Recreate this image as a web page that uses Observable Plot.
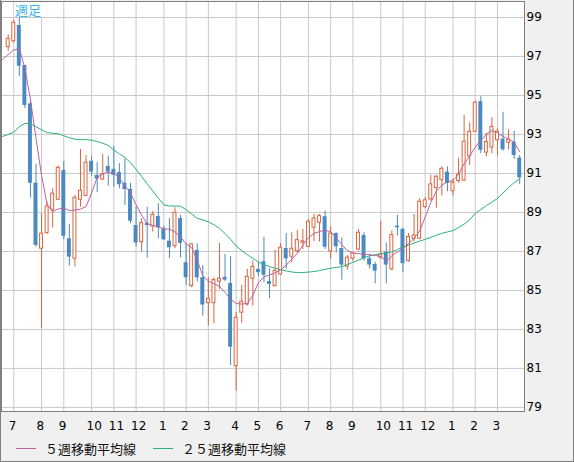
<!DOCTYPE html>
<html><head><meta charset="utf-8">
<script src="https://cdn.jsdelivr.net/npm/d3@7"></script>
<script src="https://cdn.jsdelivr.net/npm/@observablehq/plot@0.6"></script>
<style>
html,body{margin:0;padding:0;background:#f0f0f0;}
#wrap{position:relative;width:574px;height:462px;box-sizing:border-box;border:1px solid #808080;border-top:none;overflow:hidden;background:#f0f0f0;}
#chart svg{display:block;}
#ttl{position:absolute;left:13px;top:3px;font-family:"Noto Sans CJK JP",sans-serif;font-size:13px;line-height:14px;color:#3cb4e6;background:white;padding:0 1px;}
.leg{position:absolute;top:438px;height:20px;display:flex;align-items:center;font-family:"Noto Sans CJK JP",sans-serif;font-size:13px;color:#111;}
.leg .ln{display:inline-block;width:20px;height:1px;margin-right:9px;}
</style></head>
<body>
<div id="wrap">
  <div id="chart"></div>
  <div id="ttl">週足</div>
  <div class="leg" style="left:15px"><span class="ln" style="background:#c0609a"></span>５週移動平均線</div>
  <div class="leg" style="left:152px"><span class="ln" style="background:#2ab27a"></span>２５週移動平均線</div>
</div>
<script>
// weekly OHLC, index 0..92
const open = [97.48,97.78,98.59,96.54,94.57,90.50,87.14,87.94,89.14,89.65,91.15,87.65,86.63,89.65,89.85,91.62,90.90,90.69,91.36,91.21,91.04,90.50,90.18,88.33,87.48,88.45,88.28,88.79,88.16,87.53,87.27,88.69,86.42,85.22,87.05,85.65,84.35,84.35,85.45,85.67,85.36,81.12,83.86,84.28,85.60,86.08,86.47,85.46,85.22,85.82,87.15,86.73,87.01,87.45,87.24,88.22,88.47,88.78,87.00,87.92,87.15,86.22,86.63,87.10,87.82,86.63,86.33,86.68,86.96,86.08,88.30,88.13,86.50,87.65,87.65,89.28,89.67,90.26,90.66,91.07,90.09,90.61,90.64,91.88,93.14,94.68,92.07,92.33,92.71,92.76,92.58,92.60,91.79];
const high = [98.11,98.85,98.98,96.54,94.74,91.46,88.93,89.53,90.21,91.37,91.62,88.38,89.87,92.23,91.92,91.89,91.55,91.97,91.89,92.40,91.50,91.75,90.50,89.27,88.68,89.27,89.05,89.44,88.30,88.68,89.24,88.86,87.41,87.41,87.39,86.28,85.65,85.65,87.41,86.85,86.73,83.86,85.26,86.08,86.50,86.45,87.73,86.11,87.05,87.41,87.92,87.96,88.08,88.13,88.64,88.90,88.90,89.07,88.25,87.95,87.70,86.79,86.95,88.13,87.96,86.85,86.45,88.55,87.44,88.04,88.85,88.21,87.92,88.90,89.71,89.76,90.90,90.90,91.34,91.34,90.70,91.77,93.99,93.60,94.71,94.94,93.05,93.86,93.29,94.14,93.24,93.16,91.92];
const low = [97.27,97.70,95.97,94.33,89.74,87.22,83.07,87.86,88.20,89.60,87.60,86.25,86.20,89.27,89.80,90.85,90.01,90.65,90.35,90.30,90.21,89.36,88.42,87.22,86.96,86.66,87.99,87.65,87.56,86.63,87.14,86.68,85.26,85.15,85.43,83.68,83.17,83.29,85.05,85.45,81.15,79.84,83.31,84.19,84.19,85.72,85.39,84.59,85.18,85.77,86.08,86.42,86.90,87.10,87.20,87.50,87.48,87.10,86.59,86.93,85.53,86.04,86.50,87.02,86.50,86.11,85.34,86.59,85.34,86.00,87.79,85.91,86.45,87.48,87.60,89.19,89.58,89.21,89.84,90.06,89.84,90.50,90.57,91.41,93.10,92.02,91.85,92.02,91.90,92.15,92.20,91.72,90.44];
const close = [97.91,98.73,96.50,94.49,90.50,87.31,87.91,89.31,89.96,91.29,87.78,86.71,89.75,90.11,91.55,91.07,90.71,90.95,91.07,90.90,90.42,90.18,88.55,87.43,88.45,88.33,88.88,88.21,87.60,87.19,88.98,87.41,85.65,87.36,85.65,84.25,84.57,85.53,85.60,85.53,82.09,83.60,84.42,85.70,86.21,85.91,85.78,85.31,86.00,87.19,86.62,87.14,87.58,87.52,88.52,88.69,88.81,87.22,87.92,87.24,86.30,86.68,86.90,87.96,86.63,86.30,85.99,86.85,86.30,87.84,88.21,86.37,87.75,87.82,89.55,89.62,90.44,90.83,91.24,90.49,90.52,90.95,92.63,93.14,94.63,92.19,92.61,93.39,93.14,92.21,92.74,91.92,90.77];
// moving averages, index -1..92
const ma5 = [96.85,97.1,97.33,97.4,96.4,94.8,92.8,90.9,89.4,89.05,89.18,89.22,89.1,89.12,89.17,89.3,90.0,90.8,90.98,91.07,90.99,90.78,90.35,90.0,89.4,88.85,88.42,88.34,88.26,88.16,88.14,88.0,87.75,87.38,87.2,86.54,85.75,85.48,85.35,85.2,84.9,84.55,84.33,84.3,84.33,84.75,85.4,85.69,85.8,85.9,86.05,86.3,86.6,86.9,87.32,87.7,87.93,88.02,88.1,88.0,87.7,87.35,87.04,86.92,86.88,86.86,86.83,86.79,86.75,86.48,86.78,86.98,87.15,87.4,87.67,88.05,88.75,89.5,90.1,90.4,90.57,90.64,90.95,91.5,91.9,92.35,92.7,93.0,93.2,93.08,92.9,92.76,92.6,92.1];
const ma25 = [92.9,93.0,93.12,93.4,93.57,93.55,93.4,93.24,93.1,93.06,93.04,92.93,92.83,92.76,92.73,92.74,92.7,92.64,92.55,92.44,92.2,92.0,91.82,91.55,91.22,90.85,90.47,90.1,89.73,89.39,89.33,89.33,89.32,89.14,88.92,88.7,88.62,88.52,88.37,88.18,87.92,87.62,87.28,87.04,86.83,86.64,86.46,86.33,86.22,86.14,86.07,86.0,85.95,85.91,85.92,85.94,85.97,86.02,86.08,86.14,86.18,86.22,86.33,86.44,86.55,86.67,86.78,86.83,86.88,86.93,86.98,87.1,87.22,87.33,87.43,87.53,87.62,87.72,87.83,87.93,88.0,88.07,88.22,88.4,88.62,88.95,89.15,89.35,89.53,89.72,90.0,90.28,90.53,90.72];
// month ticks (week index of first week of each month) and labels
const monthTickIndex = [1,6,10,15,19,23,28,32,36,41,45,49,54,58,62,67,71,75,80,84,88];
const monthLabels = ["7","8","9","10","11","12","1","2","3","4","5","6","7","8","9","10","11","12","1","2","3"];
const yTicks = [79,81,83,85,87,89,91,93,95,97,99];

const RED = "#d9653e", BLUE = "#4a89c2", MA5C = "#c0609a", MA25C = "#2ab27a", GRID = "#c8c8c8";

const candles = open.map((o, i) => ({i, o, h: high[i], l: low[i], c: close[i]}));
const up = candles.filter(d => d.c >= d.o);
const down = candles.filter(d => d.c < d.o);
const maRows = ma5.map((v, k) => ({i: k - 1, ma5: v, ma25: ma25[k]}));

const chart = Plot.plot({
  width: 572, height: 436,
  marginLeft: 0, marginRight: 49, marginTop: 1, marginBottom: 25,
  style: {fontFamily: "DejaVu Sans, sans-serif", fontSize: "12px", background: "transparent", color: "#000"},
  x: {type: "linear", domain: [-1.205, 92.86], label: null},
  y: {domain: [78.79, 99.82], label: null},
  marks: [
    Plot.frame({fill: "white"}),
    Plot.ruleY(yTicks, {stroke: GRID}),
    Plot.ruleX(monthTickIndex, {stroke: GRID}),
    Plot.ruleX(up, {x: "i", y1: "l", y2: "h", stroke: RED}),
    Plot.ruleX(down, {x: "i", y1: "l", y2: "h", stroke: BLUE}),
    Plot.rect(down, {x1: d => d.i - 0.5, x2: d => d.i + 0.5, y1: "o", y2: "c", fill: BLUE, insetLeft: 0.8, insetRight: 0.8}),
    Plot.rect(up, {x1: d => d.i - 0.5, x2: d => d.i + 0.5, y1: "o", y2: "c", fill: "white", stroke: RED, strokeWidth: 1, insetLeft: 1.3, insetRight: 1.3}),
    Plot.line(maRows, {x: "i", y: "ma25", stroke: MA25C, strokeWidth: 1}),
    Plot.line(maRows, {x: "i", y: "ma5", stroke: MA5C, strokeWidth: 1}),
    Plot.axisY(yTicks, {anchor: "right", tickSize: 0, tickPadding: 2, fontSize: 12, fill: "#000", label: null}),
    Plot.axisX(monthTickIndex, {anchor: "bottom", tickSize: 0, tickPadding: 10, fontSize: 12, fill: "#000", label: null,
      tickFormat: d => monthLabels[monthTickIndex.indexOf(d)], textAnchor: "start", dx: -5}),
    Plot.frame({stroke: "#808080"})
  ]
});
document.getElementById("chart").appendChild(chart);
</script>
</body></html>
